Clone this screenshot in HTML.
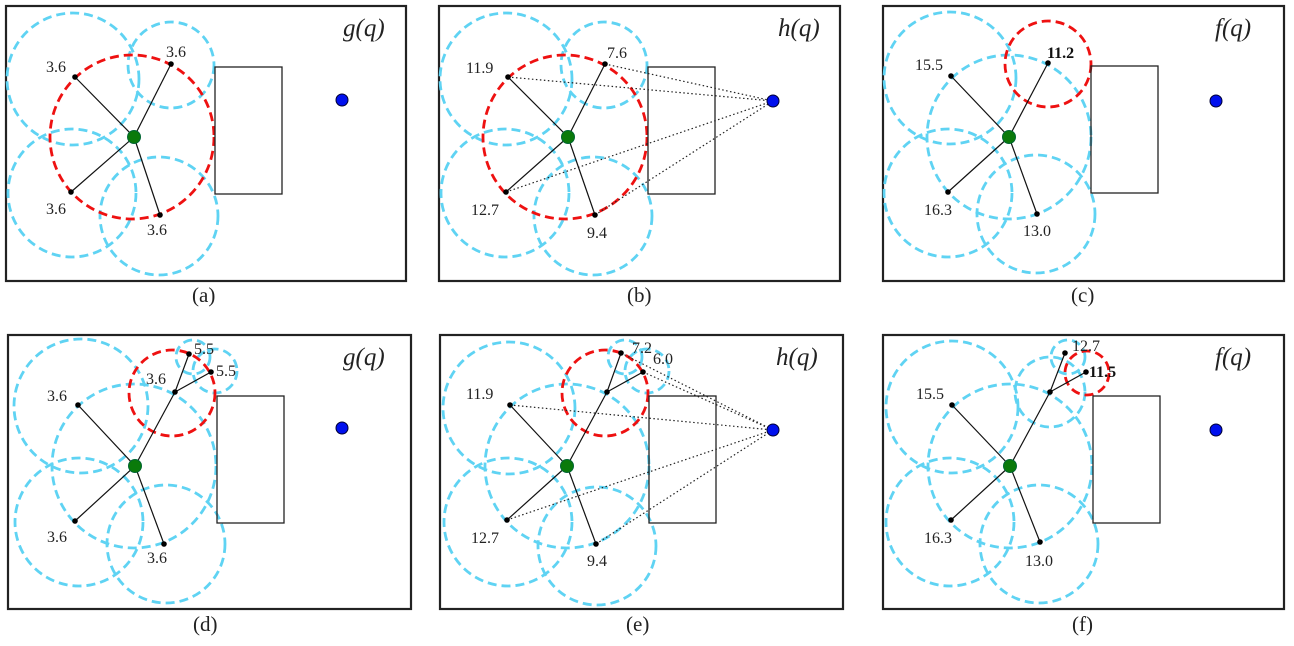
<!DOCTYPE html>
<html><head><meta charset="utf-8"><style>
html,body{margin:0;padding:0;background:#fff;}
svg{display:block;}
.f{fill:none;stroke:#222;stroke-width:2.2}
.r{fill:none;stroke:#222;stroke-width:1.3}
.b{fill:none;stroke:#5fd3f3;stroke-width:2.8;stroke-dasharray:9,5}
.red{fill:none;stroke:#ee1111;stroke-width:2.8;stroke-dasharray:9,5}
.l{stroke:#111;stroke-width:1.2}
.d{stroke:#222;stroke-width:1.2;stroke-dasharray:1.5,2.5}
.t{font-family:"Liberation Serif",serif;font-size:16px;fill:#222}
.tb{font-family:"Liberation Serif",serif;font-size:16px;fill:#111;font-weight:bold}
.ti{font-family:"Liberation Serif",serif;font-size:25px;font-style:italic;fill:#222}
.cap{font-family:"Liberation Serif",serif;font-size:21px;fill:#222}
</style></head><body>
<svg width="1294" height="646" viewBox="0 0 1294 646" xmlns="http://www.w3.org/2000/svg">
<g>
<rect class="f" x="6" y="6" width="400" height="275"/>
<circle class="b" cx="73" cy="79" r="66"/>
<circle class="b" cx="171" cy="65" r="43"/>
<circle class="b" cx="72" cy="193" r="64"/>
<circle class="b" cx="159" cy="216" r="59"/>
<circle class="red" cx="132" cy="137" r="82"/>
<rect class="r" x="215" y="67" width="67" height="127"/>
<line class="l" x1="134" y1="137" x2="75" y2="77"/><line class="l" x1="134" y1="137" x2="171" y2="64"/>
<line class="l" x1="134" y1="137" x2="71" y2="192"/><line class="l" x1="134" y1="137" x2="160" y2="215"/>
<circle cx="75" cy="77" r="2.8"/><circle cx="171" cy="64" r="2.8"/><circle cx="71" cy="192" r="2.8"/><circle cx="160" cy="215" r="2.8"/>
<circle cx="134" cy="137" r="6.5" fill="#0a7a0a" stroke="#063" />
<circle cx="342" cy="100" r="6" fill="#0010ee" stroke="#003"/>
<text class="t" x="46" y="72">3.6</text><text class="t" x="166" y="57">3.6</text>
<text class="t" x="46" y="214">3.6</text><text class="t" x="147" y="235">3.6</text>
<text class="ti" x="343" y="36">g(q)</text>
<text class="cap" x="192" y="302">(a)</text>
</g>
<g>
<rect class="f" x="439" y="6" width="401" height="275"/>
<circle class="b" cx="506" cy="79" r="66"/>
<circle class="b" cx="604" cy="65" r="43"/>
<circle class="b" cx="505" cy="193" r="64"/>
<circle class="b" cx="593" cy="216" r="59"/>
<circle class="red" cx="565" cy="137" r="82"/>
<rect class="r" x="648" y="67" width="67" height="127"/>
<line class="d" x1="508" y1="77" x2="773" y2="101"/><line class="d" x1="605" y1="64" x2="773" y2="101"/>
<line class="d" x1="506" y1="192" x2="773" y2="101"/><line class="d" x1="595" y1="215" x2="773" y2="101"/>
<line class="l" x1="568" y1="137" x2="508" y2="77"/><line class="l" x1="568" y1="137" x2="605" y2="64"/>
<line class="l" x1="568" y1="137" x2="506" y2="192"/><line class="l" x1="568" y1="137" x2="595" y2="215"/>
<circle cx="508" cy="77" r="2.8"/><circle cx="605" cy="64" r="2.8"/><circle cx="506" cy="192" r="2.8"/><circle cx="595" cy="215" r="2.8"/>
<circle cx="568" cy="137" r="6.5" fill="#0a7a0a" stroke="#063"/>
<circle cx="773" cy="101" r="6" fill="#0010ee" stroke="#003"/>
<text class="t" x="466" y="73">11.9</text><text class="t" x="607" y="58">7.6</text>
<text class="t" x="471" y="215">12.7</text><text class="t" x="587" y="238">9.4</text>
<text class="ti" x="778" y="36">h(q)</text>
<text class="cap" x="627" y="302">(b)</text>
</g>
<g>
<rect class="f" x="883" y="6" width="401" height="275"/>
<circle class="b" cx="950" cy="78" r="66"/>
<circle class="b" cx="1009" cy="137" r="82"/>
<circle class="b" cx="948" cy="193" r="64"/>
<circle class="b" cx="1036" cy="214" r="59"/>
<circle class="red" cx="1048" cy="64" r="43"/>
<rect class="r" x="1091" y="66" width="67" height="127"/>
<line class="l" x1="1009" y1="137" x2="951" y2="76"/><line class="l" x1="1009" y1="137" x2="1048" y2="63"/>
<line class="l" x1="1009" y1="137" x2="948" y2="192"/><line class="l" x1="1009" y1="137" x2="1037" y2="214"/>
<circle cx="951" cy="76" r="2.8"/><circle cx="1048" cy="63" r="2.8"/><circle cx="948" cy="192" r="2.8"/><circle cx="1037" cy="214" r="2.8"/>
<circle cx="1009" cy="137" r="6.5" fill="#0a7a0a" stroke="#063"/>
<circle cx="1216" cy="101" r="6" fill="#0010ee" stroke="#003"/>
<text class="t" x="915" y="70">15.5</text><text class="tb" x="1047" y="58">11.2</text>
<text class="t" x="924" y="215">16.3</text><text class="t" x="1023" y="236">13.0</text>
<text class="ti" x="1215" y="36">f(q)</text>
<text class="cap" x="1071" y="302">(c)</text>
</g>
<g>
<rect class="f" x="8" y="335" width="403" height="274"/>
<circle class="b" cx="81" cy="406" r="67"/>
<circle class="b" cx="134" cy="466" r="82"/>
<circle class="b" cx="79" cy="522" r="64"/>
<circle class="b" cx="166" cy="544" r="59"/>
<circle class="b" cx="193" cy="357" r="17"/>
<circle class="b" cx="215" cy="371" r="22"/>
<circle class="red" cx="172" cy="393" r="43"/>
<rect class="r" x="217" y="396" width="67" height="127"/>
<line class="l" x1="135" y1="466" x2="78" y2="405"/><line class="l" x1="135" y1="466" x2="175" y2="392"/>
<line class="l" x1="175" y1="392" x2="189" y2="354"/><line class="l" x1="175" y1="392" x2="211" y2="372"/>
<line class="l" x1="135" y1="466" x2="75" y2="521"/><line class="l" x1="135" y1="466" x2="164" y2="544"/>
<circle cx="78" cy="405" r="2.8"/><circle cx="175" cy="392" r="2.8"/><circle cx="189" cy="354" r="2.8"/><circle cx="211" cy="372" r="2.8"/><circle cx="75" cy="521" r="2.8"/><circle cx="164" cy="544" r="2.8"/>
<circle cx="135" cy="466" r="6.5" fill="#0a7a0a" stroke="#063"/>
<circle cx="342" cy="428" r="6" fill="#0010ee" stroke="#003"/>
<text class="t" x="47" y="401">3.6</text><text class="t" x="146" y="384">3.6</text>
<text class="t" x="194" y="354">5.5</text><text class="t" x="216" y="376">5.5</text>
<text class="t" x="47" y="542">3.6</text><text class="t" x="147" y="563">3.6</text>
<text class="ti" x="343" y="365">g(q)</text>
<text class="cap" x="193" y="631">(d)</text>
</g>
<g>
<rect class="f" x="440" y="335" width="403" height="274"/>
<circle class="b" cx="509" cy="408" r="66"/>
<circle class="b" cx="567" cy="466" r="82"/>
<circle class="b" cx="508" cy="522" r="64"/>
<circle class="b" cx="597" cy="546" r="59"/>
<circle class="b" cx="625" cy="357" r="17"/>
<circle class="b" cx="647" cy="371" r="22"/>
<circle class="red" cx="605" cy="393" r="43"/>
<rect class="r" x="649" y="396" width="67" height="127"/>
<line class="d" x1="510" y1="405" x2="773" y2="430"/><line class="d" x1="621" y1="353" x2="773" y2="430"/>
<line class="d" x1="643" y1="372" x2="773" y2="430"/><line class="d" x1="507" y1="520" x2="773" y2="430"/>
<line class="d" x1="596" y1="544" x2="773" y2="430"/>
<line class="l" x1="567" y1="466" x2="510" y2="405"/><line class="l" x1="567" y1="466" x2="607" y2="392"/>
<line class="l" x1="607" y1="392" x2="621" y2="353"/><line class="l" x1="607" y1="392" x2="643" y2="372"/>
<line class="l" x1="567" y1="466" x2="507" y2="520"/><line class="l" x1="567" y1="466" x2="596" y2="544"/>
<circle cx="510" cy="405" r="2.8"/><circle cx="607" cy="392" r="2.8"/><circle cx="621" cy="353" r="2.8"/><circle cx="643" cy="372" r="2.8"/><circle cx="507" cy="520" r="2.8"/><circle cx="596" cy="544" r="2.8"/>
<circle cx="567" cy="466" r="6.5" fill="#0a7a0a" stroke="#063"/>
<circle cx="773" cy="430" r="6" fill="#0010ee" stroke="#003"/>
<text class="t" x="466" y="399">11.9</text><text class="t" x="632" y="353">7.2</text>
<text class="t" x="653" y="364">6.0</text><text class="t" x="471" y="543">12.7</text>
<text class="t" x="587" y="566">9.4</text>
<text class="ti" x="776" y="365">h(q)</text>
<text class="cap" x="626" y="631">(e)</text>
</g>
<g>
<rect class="f" x="883" y="335" width="401" height="274"/>
<circle class="b" cx="952" cy="407" r="66"/>
<circle class="b" cx="1010" cy="466" r="82"/>
<circle class="b" cx="950" cy="522" r="64"/>
<circle class="b" cx="1039" cy="544" r="59"/>
<circle class="b" cx="1068" cy="357" r="17"/>
<circle class="b" cx="1050" cy="392" r="35"/>
<circle class="red" cx="1087" cy="373" r="22"/>
<rect class="r" x="1093" y="396" width="67" height="127"/>
<line class="l" x1="1010" y1="466" x2="952" y2="405"/><line class="l" x1="1010" y1="466" x2="1050" y2="392"/>
<line class="l" x1="1050" y1="392" x2="1065" y2="353"/><line class="l" x1="1050" y1="392" x2="1086" y2="372"/>
<line class="l" x1="1010" y1="466" x2="951" y2="520"/><line class="l" x1="1010" y1="466" x2="1040" y2="542"/>
<circle cx="952" cy="405" r="2.8"/><circle cx="1050" cy="392" r="2.8"/><circle cx="1065" cy="353" r="2.8"/><circle cx="1086" cy="372" r="2.8"/><circle cx="951" cy="520" r="2.8"/><circle cx="1040" cy="542" r="2.8"/>
<circle cx="1010" cy="466" r="6.5" fill="#0a7a0a" stroke="#063"/>
<circle cx="1216" cy="430" r="6" fill="#0010ee" stroke="#003"/>
<text class="t" x="916" y="399">15.5</text><text class="t" x="1072" y="351">12.7</text>
<text class="tb" x="1089" y="377">11.5</text><text class="t" x="924" y="543">16.3</text>
<text class="t" x="1025" y="566">13.0</text>
<text class="ti" x="1215" y="365">f(q)</text>
<text class="cap" x="1072" y="631">(f)</text>
</g>
</svg>
</body></html>
